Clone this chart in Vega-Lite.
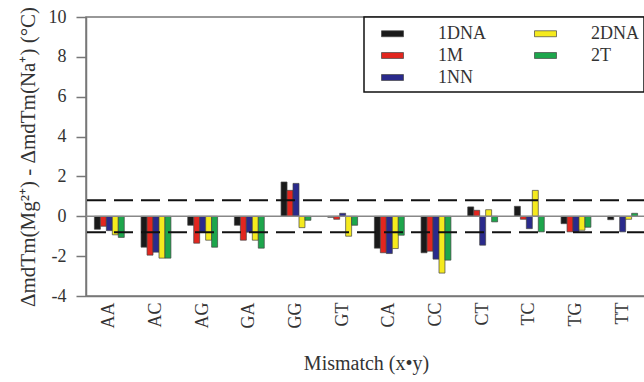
{
  "$schema": "https://vega.github.io/schema/vega-lite/v6.json",
  "width": 560,
  "height": 279,
  "autosize": "none",
  "padding": {"left": 86, "top": 17, "right": 0, "bottom": 86},
  "background": "white",
  "config": {
    "view": {"stroke": "#777", "strokeWidth": 1.5},
    "font": "Liberation Serif",
    "legend": {"strokeWidth": 1.5}
  },
  "encoding": {
    "y": {
      "field": "value",
      "type": "quantitative",
      "scale": {"domain": [-4, 10], "nice": false},
      "axis": {
        "values": [-4, -2, 0, 2, 4, 6, 8, 10],
        "labelExpr": "'' + datum.value",
        "labelOverlap": false,
        "labelBound": false,
        "labelFlush": false,
        "grid": false,
        "title": "ΔmdTm(Mg²⁺) - ΔmdTm(Na⁺)   (°C)",
        "titleFont": "Liberation Serif",
        "titleFontSize": 21,
        "titleFontWeight": "normal",
        "titleColor": "#333",
        "titlePadding": 10,
        "labelFont": "Liberation Serif",
        "labelFontSize": 18,
        "labelColor": "#333",
        "labelPadding": 10,
        "tickSize": 10,
        "tickColor": "#777",
        "tickWidth": 1.5,
        "domainColor": "#777",
        "domainWidth": 1.5
      }
    }
  },
  "layer": [
    {
      "data": {
        "values": [
          {"mismatch": "AA", "series": "1DNA", "value": -0.65},
          {"mismatch": "AA", "series": "1M", "value": -0.5},
          {"mismatch": "AA", "series": "1NN", "value": -0.72},
          {"mismatch": "AA", "series": "2DNA", "value": -0.93},
          {"mismatch": "AA", "series": "2T", "value": -1.06},
          {"mismatch": "AC", "series": "1DNA", "value": -1.55},
          {"mismatch": "AC", "series": "1M", "value": -1.95},
          {"mismatch": "AC", "series": "1NN", "value": -1.8},
          {"mismatch": "AC", "series": "2DNA", "value": -2.1},
          {"mismatch": "AC", "series": "2T", "value": -2.1},
          {"mismatch": "AG", "series": "1DNA", "value": -0.45},
          {"mismatch": "AG", "series": "1M", "value": -1.35},
          {"mismatch": "AG", "series": "1NN", "value": -0.8},
          {"mismatch": "AG", "series": "2DNA", "value": -1.2},
          {"mismatch": "AG", "series": "2T", "value": -1.55},
          {"mismatch": "GA", "series": "1DNA", "value": -0.45},
          {"mismatch": "GA", "series": "1M", "value": -1.2},
          {"mismatch": "GA", "series": "1NN", "value": -0.8},
          {"mismatch": "GA", "series": "2DNA", "value": -1.2},
          {"mismatch": "GA", "series": "2T", "value": -1.6},
          {"mismatch": "GG", "series": "1DNA", "value": 1.72},
          {"mismatch": "GG", "series": "1M", "value": 1.3},
          {"mismatch": "GG", "series": "1NN", "value": 1.65},
          {"mismatch": "GG", "series": "2DNA", "value": -0.57},
          {"mismatch": "GG", "series": "2T", "value": -0.2},
          {"mismatch": "GT", "series": "1DNA", "value": -0.05},
          {"mismatch": "GT", "series": "1M", "value": -0.15},
          {"mismatch": "GT", "series": "1NN", "value": 0.15},
          {"mismatch": "GT", "series": "2DNA", "value": -1.0},
          {"mismatch": "GT", "series": "2T", "value": -0.45},
          {"mismatch": "CA", "series": "1DNA", "value": -1.6},
          {"mismatch": "CA", "series": "1M", "value": -1.83},
          {"mismatch": "CA", "series": "1NN", "value": -1.87},
          {"mismatch": "CA", "series": "2DNA", "value": -1.62},
          {"mismatch": "CA", "series": "2T", "value": -0.95},
          {"mismatch": "CC", "series": "1DNA", "value": -1.83},
          {"mismatch": "CC", "series": "1M", "value": -1.75},
          {"mismatch": "CC", "series": "1NN", "value": -2.15},
          {"mismatch": "CC", "series": "2DNA", "value": -2.85},
          {"mismatch": "CC", "series": "2T", "value": -2.2},
          {"mismatch": "CT", "series": "1DNA", "value": 0.47},
          {"mismatch": "CT", "series": "1M", "value": 0.3},
          {"mismatch": "CT", "series": "1NN", "value": -1.45},
          {"mismatch": "CT", "series": "2DNA", "value": 0.33},
          {"mismatch": "CT", "series": "2T", "value": -0.28},
          {"mismatch": "TC", "series": "1DNA", "value": 0.5},
          {"mismatch": "TC", "series": "1M", "value": -0.15},
          {"mismatch": "TC", "series": "1NN", "value": -0.62},
          {"mismatch": "TC", "series": "2DNA", "value": 1.3},
          {"mismatch": "TC", "series": "2T", "value": -0.78},
          {"mismatch": "TG", "series": "1DNA", "value": -0.37},
          {"mismatch": "TG", "series": "1M", "value": -0.78},
          {"mismatch": "TG", "series": "1NN", "value": -0.78},
          {"mismatch": "TG", "series": "2DNA", "value": -0.7},
          {"mismatch": "TG", "series": "2T", "value": -0.55},
          {"mismatch": "TT", "series": "1DNA", "value": -0.17},
          {"mismatch": "TT", "series": "1M", "value": 0},
          {"mismatch": "TT", "series": "1NN", "value": -0.78},
          {"mismatch": "TT", "series": "2DNA", "value": -0.15},
          {"mismatch": "TT", "series": "2T", "value": 0.15}
        ]
      },
      "mark": {"type": "bar", "stroke": "#444", "strokeWidth": 0.7},
      "encoding": {
        "x": {
          "field": "mismatch",
          "type": "nominal",
          "sort": ["AA", "AC", "AG", "GA", "GG", "GT", "CA", "CC", "CT", "TC", "TG", "TT"],
          "scale": {"paddingInner": 0.36, "paddingOuter": 0.18},
          "axis": {
            "title": "Mismatch (x•y)",
            "titleFont": "Liberation Serif",
            "titleFontSize": 20,
            "titleFontWeight": "normal",
            "titleColor": "#333",
            "titlePadding": 26,
            "labelAngle": -90,
            "labelFont": "Liberation Serif",
            "labelFontSize": 18,
            "labelColor": "#333",
            "labelPadding": 6,
            "ticks": false,
            "domainColor": "#777",
            "domainWidth": 1.5
          }
        },
        "xOffset": {
          "field": "series",
          "type": "nominal",
          "sort": ["1DNA", "1M", "1NN", "2DNA", "2T"]
        },
        "color": {
          "field": "series",
          "type": "nominal",
          "scale": {
            "domain": ["1DNA", "1M", "1NN", "2DNA", "2T"],
            "range": ["#1a1a1a", "#e2261f", "#2a2a8c", "#f5ea1e", "#1da64c"]
          },
          "legend": {
            "title": null,
            "orient": "none",
            "legendX": 278,
            "legendY": 0,
            "columns": 2,
            "symbolType": "M-1,-0.27L1,-0.27L1,0.27L-1,0.27Z",
            "symbolSize": 484,
            "symbolStrokeColor": "#444",
            "symbolStrokeWidth": 0.7,
            "symbolOpacity": 1,
            "symbolOffset": 12,
            "labelFont": "Liberation Serif",
            "labelFontSize": 18,
            "labelColor": "#333",
            "labelOffset": 34,
            "labelLimit": 200,
            "columnPadding": 36,
            "rowPadding": 1,
            "padding": 5,
            "strokeColor": "#111",
            "fillColor": "white",
            "cornerRadius": 0
          }
        }
      }
    },
    {
      "data": {"values": [{"value": 0}]},
      "mark": {"type": "rule", "color": "#888", "strokeWidth": 1.5},
      "encoding": {}
    },
    {
      "data": {"values": [{"value": 0.8}, {"value": -0.8}]},
      "mark": {"type": "rule", "color": "#111", "strokeWidth": 2, "strokeDash": [19, 8]},
      "encoding": {}
    }
  ]
}
